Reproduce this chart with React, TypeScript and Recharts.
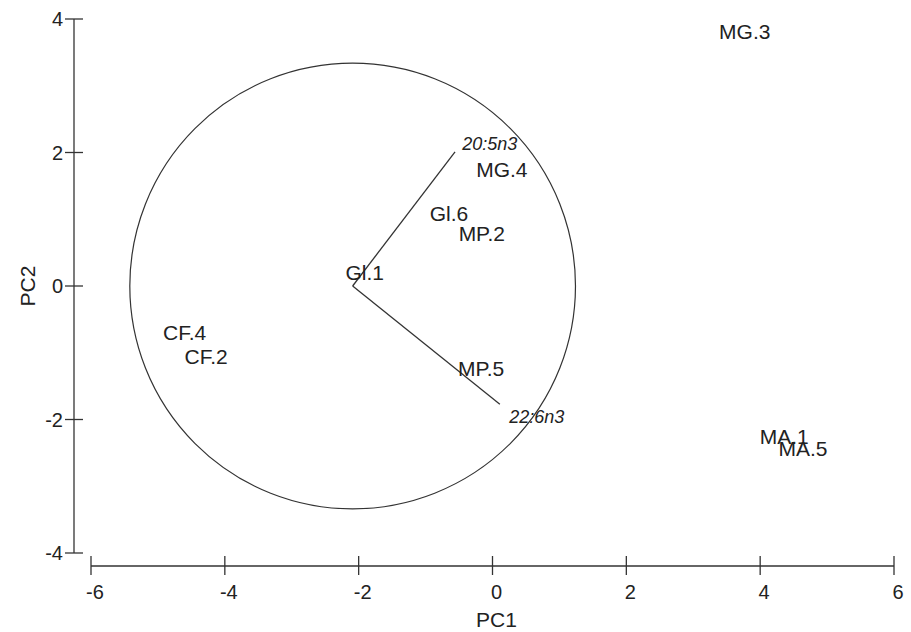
import { ReferenceDot, ReferenceLine, Scatter, ScatterChart, XAxis, YAxis } from "recharts";

const W = 911;
const H = 632;
const FONT = "'Liberation Sans', Arial, sans-serif";
const INK = "#222";
const LINE = "#333";

const X_TICKS = [-6, -4, -2, 0, 2, 4, 6];
const Y_TICKS = [-4, -2, 0, 2, 4];

// sample scores
const SAMPLE_NAMES = ["MG.3", "MG.4", "Gl.6", "MP.2", "Gl.1", "CF.4", "CF.2", "MP.5", "MA.1", "MA.5"];
const SAMPLE_PC1 = [3.77, 0.14, -0.65, -0.16, -1.91, -4.6, -4.28, -0.17, 4.36, 4.64];
const SAMPLE_PC2 = [3.82, 1.74, 1.09, 0.78, 0.21, -0.7, -1.05, -1.24, -2.26, -2.43];

// variable arrows (tips) and where their labels sit
const VAR_NAMES = ["20:5n3", "22:6n3"];
const VAR_PC1 = [-0.56, 0.11];
const VAR_PC2 = [2.01, -1.77];
const VAR_LABEL_PC1 = [-0.04, 0.66];
const VAR_LABEL_PC2 = [2.14, -1.95];

// correlation circle
const CIRCLE_PC1 = -2.09;
const CIRCLE_PC2 = 0;
const CIRCLE_RADIUS = 3.33;

const MARGIN = { top: 19, right: 17, bottom: 0, left: 0 };
const Y_AXIS_W = 91;
const X_AXIS_H = 79;
const PX_PER_UNIT = (W - MARGIN.right - Y_AXIS_W) / (X_TICKS[X_TICKS.length - 1] - X_TICKS[0]);

const samples = SAMPLE_NAMES.map((name, i) => ({ name, pc1: SAMPLE_PC1[i], pc2: SAMPLE_PC2[i] }));
const varLabels = VAR_NAMES.map((name, i) => ({ name, pc1: VAR_LABEL_PC1[i], pc2: VAR_LABEL_PC2[i] }));

function XTick({ x, y, payload }: any) {
  return (
    <g>
      <line x1={x} x2={x} y1={y + 3} y2={y + 22} stroke={LINE} strokeWidth={1.3} />
      <text x={x + 4} y={y + 46} textAnchor="middle" fontSize={20} fontFamily={FONT} fill={INK}>
        {payload.value}
      </text>
    </g>
  );
}

function YTick({ x, y, payload }: any) {
  return (
    <g>
      <line x1={x - 26} x2={x - 8} y1={y} y2={y} stroke={LINE} strokeWidth={1.3} />
      <text x={x - 28} y={y + 7} textAnchor="end" fontSize={20} fontFamily={FONT} fill={INK}>
        {payload.value}
      </text>
    </g>
  );
}

const sampleLabel = (p: any) => (
  <text x={p.cx} y={p.cy} dy="0.36em" textAnchor="middle" fontSize={21} fontFamily={FONT} fill={INK}>
    {p.payload.name}
  </text>
);

const varLabel = (p: any) => (
  <text x={p.cx} y={p.cy} dy="0.36em" textAnchor="middle" fontSize={18} fontStyle="italic" fontFamily={FONT} fill={INK}>
    {p.payload.name}
  </text>
);

export default function App() {
  return (
    <div style={{ position: "absolute", left: 0, top: 0, width: W, height: H, background: "#fff" }}>
      <ScatterChart width={W} height={H} margin={MARGIN}>
        <XAxis
          type="number"
          dataKey="pc1"
          domain={[-6, 6]}
          ticks={X_TICKS}
          interval={0}
          allowDataOverflow
          height={X_AXIS_H}
          axisLine={false}
          tickLine={false}
          tickSize={0}
          tickMargin={0}
          tick={<XTick />}
          label={{
            content: ({ viewBox }: any) => (
              <text x={viewBox.x + viewBox.width / 2 + 4} y={viewBox.y + 74} textAnchor="middle" fontSize={21} fontFamily={FONT} fill={INK}>
                PC1
              </text>
            ),
          }}
        />
        <YAxis
          type="number"
          dataKey="pc2"
          domain={[-4, 4]}
          ticks={Y_TICKS}
          interval={0}
          allowDataOverflow
          width={Y_AXIS_W}
          axisLine={false}
          tickLine={false}
          tickSize={0}
          tickMargin={0}
          tick={<YTick />}
          label={{
            content: ({ viewBox }: any) => {
              const cx = 27;
              const cy = viewBox.y + viewBox.height / 2;
              return (
                <text x={cx} y={cy} dy="0.36em" transform={`rotate(-90 ${cx} ${cy})`} textAnchor="middle" fontSize={21} fontFamily={FONT} fill={INK}>
                  PC2
                </text>
              );
            },
          }}
        />
        {/* detached axis lines */}
        <ReferenceLine
          y={-4}
          ifOverflow="visible"
          shape={(p: any) => <line x1={p.x1} x2={p.x2} y1={p.y1 + 13} y2={p.y2 + 13} stroke={LINE} strokeWidth={1.3} />}
        />
        <ReferenceLine
          x={-6}
          ifOverflow="visible"
          shape={(p: any) => <line x1={p.x1 - 17} x2={p.x2 - 17} y1={p.y1} y2={p.y2} stroke={LINE} strokeWidth={1.3} />}
        />
        <ReferenceDot
          x={CIRCLE_PC1}
          y={CIRCLE_PC2}
          r={CIRCLE_RADIUS * PX_PER_UNIT}
          fill="none"
          stroke={LINE}
          strokeWidth={1.2}
          ifOverflow="visible"
        />
        {VAR_NAMES.map((name, i) => (
          <ReferenceLine
            key={name}
            segment={[
              { x: CIRCLE_PC1, y: CIRCLE_PC2 },
              { x: VAR_PC1[i], y: VAR_PC2[i] },
            ]}
            stroke={LINE}
            strokeWidth={1.3}
            ifOverflow="visible"
          />
        ))}
        <Scatter data={samples} shape={sampleLabel} isAnimationActive={false} />
        <Scatter data={varLabels} shape={varLabel} isAnimationActive={false} />
      </ScatterChart>
    </div>
  );
}
